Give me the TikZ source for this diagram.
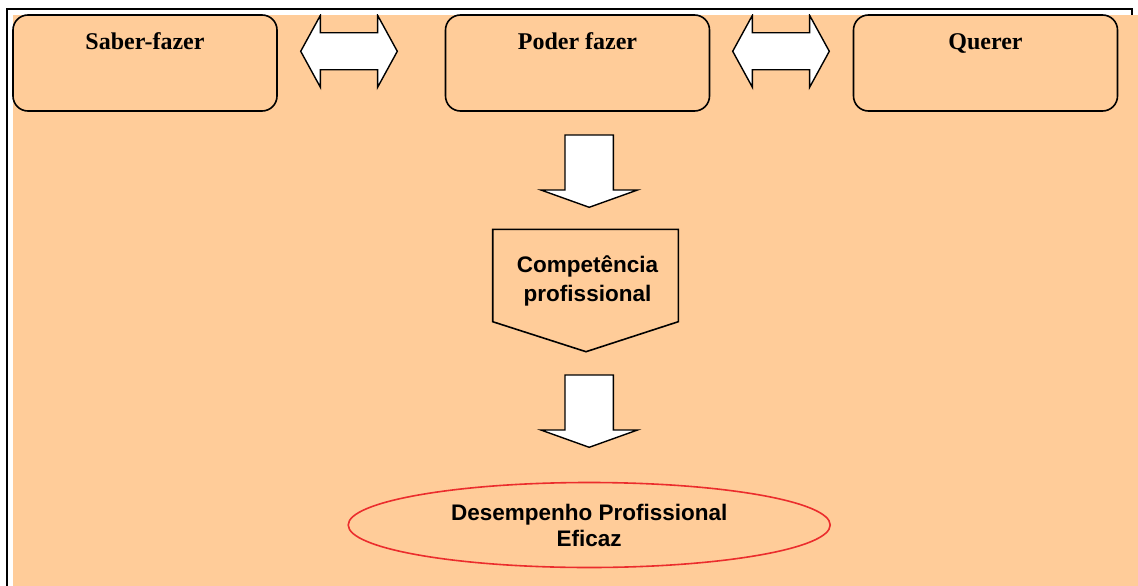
\documentclass[tikz,border=0pt]{standalone}
\usepackage{fontspec}
\setmainfont{Liberation Serif}
\newfontfamily\headsans{Liberation Sans}
\usetikzlibrary{shapes.geometric,calc}
\definecolor{peach}{HTML}{FFCC99}
\definecolor{ovalred}{RGB}{235,45,45}
\tikzset{
  topbox/.style={draw=black, line width=1.6pt, rounded corners=15pt, fill=peach,
    minimum width=264pt, minimum height=96pt, inner sep=0pt,
    text height=35pt, text depth=61pt,
    font=\fontsize{24}{28}\selectfont\bfseries},
  blockarrow/.style={draw=black, fill=white, line width=1.4pt, line join=miter},
  sanstext/.style={font=\headsans\fontsize{22.5}{29}\selectfont\bfseries, align=center, inner sep=0pt},
  dblarrow/.pic={
    \path[blockarrow] (-48.3,0) -- (-28.6,-36) -- (-28.6,-18.5) -- (28.6,-18.5) -- (28.6,-36)
      -- (48.3,0) -- (28.6,36) -- (28.6,18.5) -- (-28.6,18.5) -- (-28.6,36) -- cycle;
  },
  downarrow/.pic={
    \path[blockarrow] (-24.2,0) -- (24.2,0) -- (24.2,55) -- (48.3,55) -- (0,72.3)
      -- (-48.3,55) -- (-24.2,55) -- cycle;
  }
}
\begin{document}
\begin{tikzpicture}[x=1pt, y=-1pt]
  \useasboundingbox (0,0) rectangle (1138,586);
  % page background and shaded panel
  \fill[white] (0,0) rectangle (1138,586);
  \fill[peach] (13,15) rectangle (1138,586);
  \draw[line width=2pt, line cap=butt] (7,586) -- (7,9.5) -- (1132,9.5) -- (1132,15);

  % the three components
  \node[topbox] (saber)  at (145,63)   {Saber-fazer};
  \node[topbox] (poder)  at (577.5,63) {Poder fazer};
  \node[topbox] (querer) at (985.5,63) {Querer};

  % two-way links between components, kept inside the panel
  \begin{scope}
    \clip (13,15) rectangle (1138,586);
    \pic at (349,51.3) {dblarrow};
    \pic at (781,51.3) {dblarrow};
  \end{scope}

  % downward flow
  \pic at (589.2,135) {downarrow};

  % competence pentagon
  \coordinate (compc) at (587.5,281);
  \draw[line width=1.6pt, fill=peach, line join=miter]
    (492.7,229.3) -- (678.3,229.3) -- (678.3,321.7) -- (586,351.7) -- (492.7,321.7) -- cycle;
  \node[sanstext] (comp) at (compc) {Compet\^encia\\profissional};

  \pic at (589.2,375) {downarrow};

  % outcome
  \node[ellipse, draw=ovalred, line width=1.6pt, fill=peach, minimum width=482pt,
        minimum height=85pt, inner sep=0pt,
        font=\headsans\fontsize{22.5}{26}\selectfont\bfseries, align=center]
        (desemp) at (589.2,525) {Desempenho Profissional\\Eficaz};
\end{tikzpicture}
\end{document}
